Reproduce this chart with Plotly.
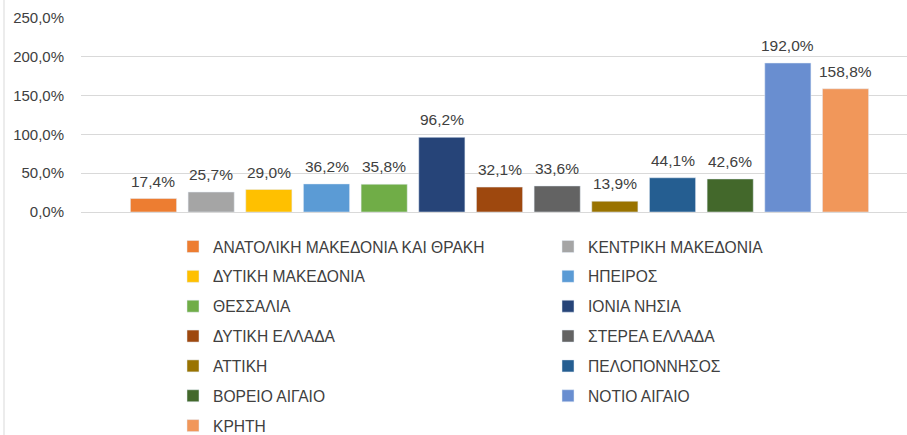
import plotly.graph_objects as go

regions = [
    "ΑΝΑΤΟΛΙΚΗ ΜΑΚΕΔΟΝΙΑ ΚΑΙ ΘΡΑΚΗ", "ΚΕΝΤΡΙΚΗ ΜΑΚΕΔΟΝΙΑ", "ΔΥΤΙΚΗ ΜΑΚΕΔΟΝΙΑ",
    "ΗΠΕΙΡΟΣ", "ΘΕΣΣΑΛΙΑ", "ΙΟΝΙΑ ΝΗΣΙΑ", "ΔΥΤΙΚΗ ΕΛΛΑΔΑ", "ΣΤΕΡΕΑ ΕΛΛΑΔΑ",
    "ΑΤΤΙΚΗ", "ΠΕΛΟΠΟΝΝΗΣΟΣ", "ΒΟΡΕΙΟ ΑΙΓΑΙΟ", "ΝΟΤΙΟ ΑΙΓΑΙΟ", "ΚΡΗΤΗ",
]
values = [0.174, 0.257, 0.290, 0.362, 0.358, 0.962, 0.321, 0.336, 0.139, 0.441, 0.426, 1.920, 1.588]
colors = [
    "#ED7D31", "#A5A5A5", "#FFC000", "#5B9BD5", "#70AD47", "#264478", "#9E480E",
    "#636363", "#997300", "#255E91", "#43682B", "#698ED0", "#F1975A",
]
tick_vals = [0, 0.5, 1.0, 1.5, 2.0, 2.5]

FONT = "Liberation Sans"
TXT = "#404040"
W, H = 907, 435
ML, MR, MT = 81, 0, 18
PLOT_BOTTOM = 212

fig = go.Figure()
for i, (name, v, c) in enumerate(zip(regions, values, colors)):
    fig.add_trace(go.Bar(
        x=[name], y=[v], name=name, marker_color=c, width=0.8,
        legend="legend" if i % 2 == 0 else "legend2",
        legendgroup=name, hoverinfo="y",
    ))
    fig.add_annotation(
        x=name, y=v, xref="x", yref="y",
        text=f"{v * 100:.1f}%".replace(".", ","),
        showarrow=False, yanchor="bottom", yshift=7,
        font=dict(family=FONT, size=15.5, color=TXT),
    )

LEG_FS = 15.6
item_h = LEG_FS * 1.3 + 3
leg_top = 246.5 - item_h / 2 - 5
leg_common = dict(
    orientation="v", yref="container", yanchor="top", y=1 - leg_top / H,
    xanchor="left",
    font=dict(family=FONT, size=LEG_FS, color=TXT),
    bgcolor="rgba(0,0,0,0)", borderwidth=0, tracegroupgap=29.85 - item_h,
)

plot_w = W - ML - MR
plot_h = PLOT_BOTTOM - MT

# chart-area border line on the far left
fig.add_shape(
    type="line", xref="paper", yref="paper",
    x0=(4 - ML) / plot_w, x1=(4 - ML) / plot_w,
    y0=(PLOT_BOTTOM - H) / plot_h, y1=PLOT_BOTTOM / plot_h,
    line=dict(color="#D9D9D9", width=1),
)

fig.update_layout(
    width=W, height=H,
    margin=dict(l=ML, r=MR, t=MT, b=H - PLOT_BOTTOM, autoexpand=False),
    paper_bgcolor="white", plot_bgcolor="white",
    barmode="overlay",
    separators=",.",
    showlegend=True,
    legend=dict(x=(173 - ML) / plot_w, **leg_common),
    legend2=dict(x=(548 - ML) / plot_w, **leg_common),
    xaxis=dict(
        categoryorder="array", categoryarray=regions,
        range=[-1.257, 13.066], showticklabels=False, showgrid=False,
        showline=False, zeroline=False, ticks="",
    ),
    yaxis=dict(
        range=[0, 2.5], tickvals=tick_vals, tickformat=".1%",
        showgrid=True, gridcolor="#D9D9D9", gridwidth=1,
        zeroline=True, zerolinecolor="#D9D9D9", zerolinewidth=1,
        showline=False, ticks="", ticklabelstandoff=16,
        tickfont=dict(family=FONT, size=15, color=TXT),
    ),
)

fig.write_html(
    "out.html",
    config={"displayModeBar": False},
    post_script="document.body.style.margin='0';document.body.style.overflow='hidden';",
)
